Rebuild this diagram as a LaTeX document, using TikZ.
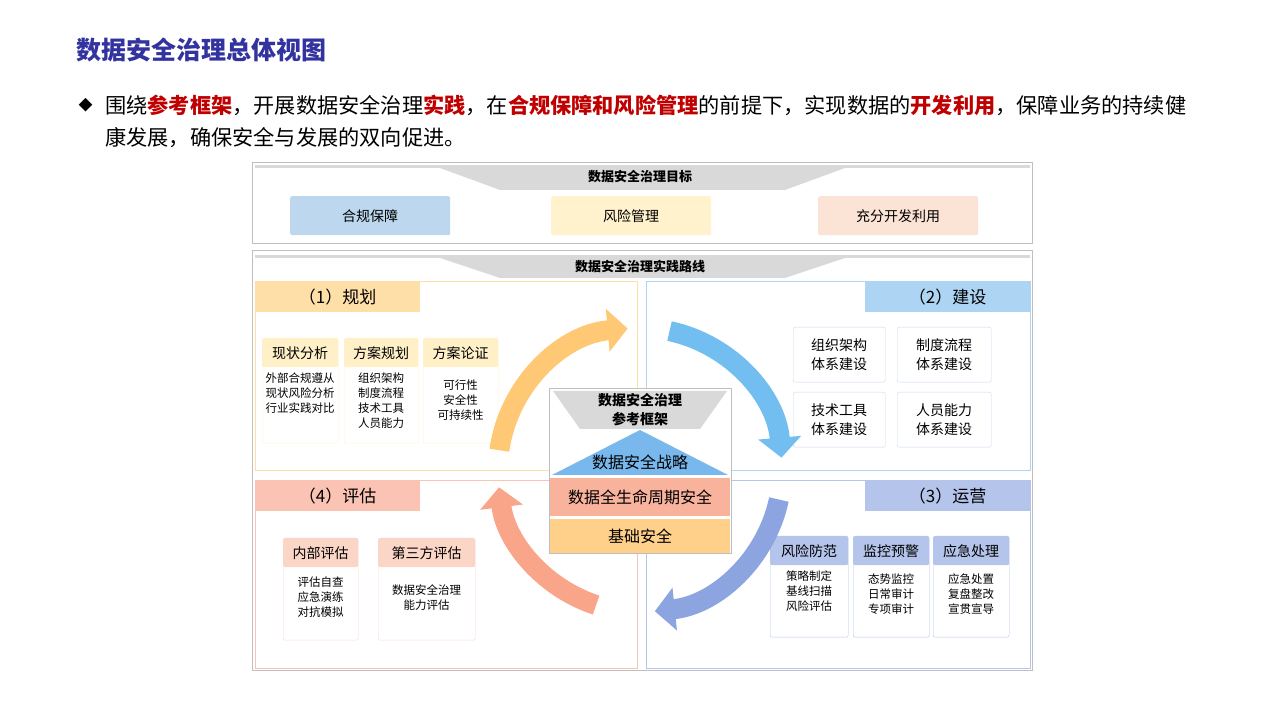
\documentclass[tikz,border=0pt]{standalone}
\usepackage{fontspec}
\setmainfont{Noto Sans CJK SC}
\usepackage{xcolor}
\usepackage{tikz}
\usetikzlibrary{arrows.meta,positioning,shapes,calc}
\definecolor{titleblue}{HTML}{3333A0}
\definecolor{keyred}{HTML}{C00000}
\definecolor{bandgray}{HTML}{D9D9D9}
\definecolor{frameg}{HTML}{BFBFBF}
\definecolor{goalblue}{HTML}{BDD7EE}
\definecolor{goalyel}{HTML}{FFF2CC}
\definecolor{goalpink}{HTML}{FBE3D6}
\definecolor{planc}{HTML}{FFDFA8}
\definecolor{planl}{HTML}{FFF0C8}
\definecolor{buildc}{HTML}{ADD4F2}
\definecolor{buildl}{HTML}{C8D4EC}
\definecolor{runc}{HTML}{B4C4EA}
\definecolor{evalc}{HTML}{FAC3B4}
\definecolor{evall}{HTML}{FBD6C6}
\definecolor{arcor}{HTML}{FFC875}
\definecolor{arcbl}{HTML}{72BEF0}
\definecolor{arcpu}{HTML}{8CA5E0}
\definecolor{arcsa}{HTML}{F8A58A}
\begin{document}
\begin{tikzpicture}[x=1pt,y=1pt,
    box/.style={anchor=north west,inner sep=0pt},
    head/.style={box,font=\fontsize{17}{17}\selectfont},
    sub/.style={box,draw,rounded corners=2pt},
    subtext/.style={font=\fontsize{11.5}{15}\selectfont,align=center,inner sep=0pt},
    subhead/.style={box,rounded corners=2pt,font=\fontsize{14}{14}\selectfont},
    ring/.style={line width=20pt,-{Triangle[length=20pt,width=42pt]}}]
    \useasboundingbox (0,0) rectangle (1280,720);
    % Title and lead text
    \node[anchor=west,text=titleblue,font=\fontsize{25}{25}\selectfont\bfseries] (title) at (73,670) {数据安全治理总体视图};
    \node[anchor=west,font=\fontsize{14}{14}\selectfont] (dot) at (75,615) {◆};
    \node[anchor=west,inner sep=0pt,font=\fontsize{21.2}{21.2}\selectfont] (lead1) at (105,615)
      {围绕\textcolor{keyred}{\textbf{参考框架}}，开展数据安全治理\textcolor{keyred}{\textbf{实践}}，在\textcolor{keyred}{\textbf{合规保障和风险管理}}的前提下，实现数据的\textcolor{keyred}{\textbf{开发利用}}，保障业务的持续健};
    \node[anchor=west,inner sep=0pt,font=\fontsize{21.2}{21.2}\selectfont] (lead2) at (105,582) {康发展，确保安全与发展的双向促进。};

    % Goals
    \node[box,draw=frameg,minimum width=780,minimum height=81] (goal) at (252,558) {};
    \fill[bandgray] (255,555) rectangle (1030,552);
    \fill[bandgray] (440,552) -- (845,552) -- (785,530) -- (500,530) -- cycle;
    \node[font=\fontsize{13}{13}\selectfont\bfseries] (goalt) at (640,543) {数据安全治理目标};
    \node[box,fill=goalblue,rounded corners=2pt,minimum width=160,minimum height=39,font=\fontsize{14}{14}\selectfont] (g1) at (290,524) {合规保障};
    \node[box,fill=goalyel,rounded corners=2pt,minimum width=160,minimum height=39,font=\fontsize{14}{14}\selectfont] (g2) at (551,524) {风险管理};
    \node[box,fill=goalpink,rounded corners=2pt,minimum width=160,minimum height=39,font=\fontsize{14}{14}\selectfont] (g3) at (818,524) {充分开发利用};

    % Practice route
    \node[box,draw=frameg,minimum width=780,minimum height=420] (route) at (252,470) {};
    \fill[bandgray] (255,465) rectangle (1030,462);
    \fill[bandgray] (440,462) -- (845,462) -- (785,442) -- (500,442) -- cycle;
    \node[font=\fontsize{13}{13}\selectfont\bfseries] (routet) at (640,453) {数据安全治理实践路线};

    % (1) planning
    \node[box,draw=planc,minimum width=382,minimum height=189] (plan) at (255,439) {};
    \node[head,fill=planc,minimum width=165,minimum height=31] (planh) at (255,439) {（1）规划};
    \node[sub,draw=planl,minimum width=76,minimum height=105] (p1) at (262,382) {};
    \node[sub,draw=planl,minimum width=74,minimum height=105] (p2) at (344,382) {};
    \node[sub,draw=planl,minimum width=75,minimum height=105] (p3) at (423,382) {};
    \node[subhead,fill=planl,minimum width=76,minimum height=29] (p1h) at (262,382) {现状分析};
    \node[subhead,fill=planl,minimum width=74,minimum height=29] (p2h) at (344,382) {方案规划};
    \node[subhead,fill=planl,minimum width=75,minimum height=29] (p3h) at (423,382) {方案论证};
    \node[subtext,below=5pt of p1h] (p1t) {外部合规遵从\\现状风险分析\\行业实践对比};
    \node[subtext,below=5pt of p2h] (p2t) {组织架构\\制度流程\\技术工具\\人员能力};
    \node[subtext,below=12pt of p3h] (p3t) {可行性\\安全性\\可持续性};

    % (2) building
    \node[box,draw=buildc,minimum width=384,minimum height=189] (build) at (646,439) {};
    \node[head,fill=buildc,minimum width=165,minimum height=31] (buildh) at (865,439) {（2）建设};
    \node[sub,draw=buildl,minimum width=92,minimum height=55,align=center,font=\fontsize{14}{19}\selectfont] (b1) at (793,393) {组织架构\\体系建设};
    \node[sub,draw=buildl,minimum width=94,minimum height=55,align=center,font=\fontsize{14}{19}\selectfont] (b2) at (897,393) {制度流程\\体系建设};
    \node[sub,draw=buildl,minimum width=92,minimum height=55,align=center,font=\fontsize{14}{19}\selectfont] (b3) at (793,328) {技术工具\\体系建设};
    \node[sub,draw=buildl,minimum width=94,minimum height=55,align=center,font=\fontsize{14}{19}\selectfont] (b4) at (897,328) {人员能力\\体系建设};

    % (3) operation
    \node[box,draw=runc,minimum width=384,minimum height=188] (run) at (646,240) {};
    \node[head,fill=runc,minimum width=165,minimum height=31] (runh) at (865,240) {（3）运营};
    \node[sub,draw=runc,minimum width=78,minimum height=101] (r1) at (770,184) {};
    \node[sub,draw=runc,minimum width=76,minimum height=101] (r2) at (853,184) {};
    \node[sub,draw=runc,minimum width=76,minimum height=101] (r3) at (933,184) {};
    \node[subhead,fill=runc,minimum width=78,minimum height=29] (r1h) at (770,184) {风险防范};
    \node[subhead,fill=runc,minimum width=76,minimum height=29] (r2h) at (853,184) {监控预警};
    \node[subhead,fill=runc,minimum width=76,minimum height=29] (r3h) at (933,184) {应急处理};
    \node[subtext,below=5pt of r1h] (r1t) {策略制定\\基线扫描\\风险评估};
    \node[subtext,below=8pt of r2h] (r2t) {态势监控\\日常审计\\专项审计};
    \node[subtext,below=8pt of r3h] (r3t) {应急处置\\复盘整改\\宣贯宣导};

    % (4) evaluation
    \node[box,draw=evalc,minimum width=382,minimum height=188] (eval) at (255,240) {};
    \node[head,fill=evalc,minimum width=165,minimum height=31] (evalh) at (255,240) {（4）评估};
    \node[sub,draw=evall,minimum width=75,minimum height=102] (e1) at (283,182) {};
    \node[sub,draw=evall,minimum width=97,minimum height=102] (e2) at (378,182) {};
    \node[subhead,fill=evall,minimum width=75,minimum height=29] (e1h) at (283,182) {内部评估};
    \node[subhead,fill=evall,minimum width=97,minimum height=29] (e2h) at (378,182) {第三方评估};
    \node[subtext,below=9pt of e1h] (e1t) {评估自查\\应急演练\\对抗模拟};
    \node[subtext,below=17pt of e2h] (e2t) {数据安全治理\\能力评估};

    % Cycle arrows
    \coordinate (hub) at (640,250);
    \draw[ring,arcor] ([shift={(172:142)}]hub) arc[start angle=172,end angle=95,radius=142];
    \draw[ring,arcbl] ([shift={(78:142)}]hub) arc[start angle=78,end angle=5,radius=142];
    \draw[ring,arcpu] ([shift={(-12:142)}]hub) arc[start angle=-12,end angle=-84,radius=142];
    \draw[ring,arcsa] ([shift={(-108:142)}]hub) arc[start angle=-108,end angle=-173,radius=142];

    % Reference framework
    \node[box,draw=frameg,fill=white,line width=1pt,minimum width=182,minimum height=165] (core) at (549,332) {};
    \fill[bandgray] (553,329) -- (727,329) -- (700,291) -- (580,291) -- cycle;
    \node[font=\fontsize{14}{19}\selectfont\bfseries,align=center] (coret) at (640,310) {数据安全治理\\参考框架};
    \fill[arcbl!75!arcpu] (552,245) -- (728,245) -- (640,290) -- cycle;
    \node[font=\fontsize{16}{16}\selectfont] (strat) at (640,258) {数据安全战略};
    \node[box,fill=arcsa!85,minimum width=180,minimum height=38,font=\fontsize{16}{16}\selectfont] (life) at (550,242) {数据全生命周期安全};
    \node[box,fill=arcor!85,minimum width=180,minimum height=34,font=\fontsize{16}{16}\selectfont] (base) at (550,201) {基础安全};
\end{tikzpicture}
\end{document}
